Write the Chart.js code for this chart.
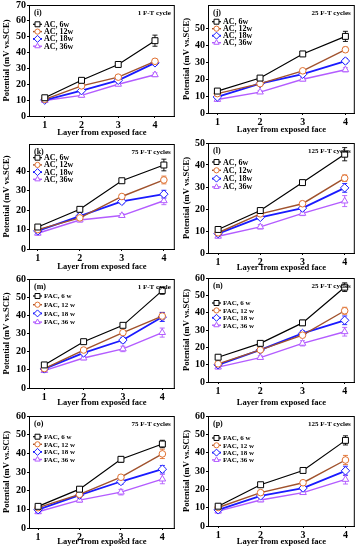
<!DOCTYPE html>
<html>
<head>
<meta charset="utf-8">
<script src="https://cdn.jsdelivr.net/npm/chart.js@4.4.0/dist/chart.umd.min.js"></script>
<style>
    html, body { margin: 0; padding: 0; background: #fff; }
    #wrap { position: relative; width: 360px; height: 550px; overflow: hidden; }
    #wrap canvas { position: absolute; }
</style>
</head>
<body>
<div id="wrap"></div>
<script>
/* --- DATA --- */

const layers = [1, 2, 3, 4];
const acNames = ['AC, 6w', 'AC, 12w', 'AC, 18w', 'AC, 36w'];
const facNames = ['FAC, 6 w', 'FAC, 12 w', 'FAC, 18 w', 'FAC, 36 w'];

// values per panel: rows = 6w, 12w, 18w, 36w
const valsI = [[11.5, 22.5, 32.5, 47.5], [10.5, 19, 24.5, 34.5], [10, 16, 22.5, 33.5], [9.8, 13, 20, 26]];
const errsI = [[1, 1.2, 1, 3.5], [0.8, 1, 1.2, 1.2], [0.8, 1.2, 1.2, 1.2], [0.8, 1, 1, 1.2]];

const valsJ = [[13, 20.7, 35, 45.4], [11.5, 17.4, 25, 37.5], [9.5, 17.4, 23, 30.8], [8, 12.4, 20, 25.6]];
const errsJ = [[1, 1, 1, 3], [0.8, 0.8, 1, 1.5], [1, 0.8, 1, 1.5], [0.8, 0.8, 1, 1.2]];

const valsK = [[11.3, 20.4, 35.1, 43.2], [10, 16, 27, 35.5], [9.3, 16.9, 24.5, 28.2], [8.1, 14.9, 17.2, 24.8]];
const errsK = [[1, 1, 1, 3], [1, 1, 1, 2], [1, 1, 1.2, 2], [1, 1, 1, 2]];

const valsL = [[10.7, 19.3, 32, 44.9], [9.2, 17.8, 22.4, 34], [8.8, 16.2, 20.4, 29.6], [7.6, 11.9, 18, 23.6]];
const errsL = [[1, 1, 1, 3], [0.8, 0.8, 1, 1.5], [0.8, 1, 1, 2], [0.8, 1, 1, 2.5]];

const valsM = [[12.7, 25.5, 34.5, 53.6], [10.7, 20.9, 30.5, 39.6], [10.5, 19.3, 26.4, 39.1], [9.6, 16.5, 21.5, 30.5]];
const errsM = [[1, 1, 1, 2], [1, 1, 1, 2], [1, 1, 1.5, 2.5], [1, 1, 1.5, 2.5]];

const valsN = [[14.3, 22.3, 34.1, 54.7], [10.5, 18.5, 27, 41.1], [9.9, 18.5, 28, 35.6], [8.6, 14.1, 22.3, 29]];
const errsN = [[1, 1, 1.5, 2.5], [1, 1, 1, 2], [1, 1, 1.5, 2.5], [1, 1, 1.5, 2.5]];

const valsO = [[11.6, 20.8, 36.8, 45], [10.9, 18, 27.2, 39.7], [9.8, 17.6, 24.9, 31.5], [8.7, 14.9, 19.2, 26.2]];
const errsO = [[1, 1, 1.5, 2], [1, 1, 1, 2.5], [1, 1, 1.5, 2], [1, 1, 1.5, 2.5]];

const valsP = [[10.8, 22.5, 30.3, 46.7], [10.1, 18.2, 23.6, 36], [8.8, 16.4, 20.7, 30.1], [8.1, 14.2, 18.2, 25.4]];
const errsP = [[1, 1, 1, 2.5], [1, 1, 1, 2.5], [1, 1, 1, 2.5], [1, 1, 1, 2.5]];

/* --- STYLE / LAYOUT --- */

const lineColors = ['#000000', '#a0522d', '#1a1aff', '#b35cff'];
const markColors = ['#000000', '#e07030', '#1a1aff', '#b35cff'];
const markStyles = ['rect', 'circle', 'rectRot', 'triangle'];
const markSizes = [4.2, 3.3, 4.2, 3.8];
const lineWidths = [1.2, 1.4, 1.8, 1.4];
const SERIF = "'Liberation Serif', 'DejaVu Serif', serif";

// box = chart area [left, top, right, bottom]; leg = [first row offset, row step]; tdy = x title offset
const panels = [
    { tag: '(i)', cyc: '1 F-T cycle', names: acNames, vals: valsI, errs: errsI, box: [29, 4, 176, 116], xr: [0.57, 4.54], ymax: 70, leg: [19.3, 7.3], tdy: 17, legFont: 8 },
    { tag: '(j)', cyc: '25 F-T cycles', names: acNames, vals: valsJ, errs: errsJ, box: [208, 4, 356, 113], xr: [0.78, 4.22], ymax: 64, leg: [16.7, 7], tdy: 17, legFont: 8 },
    { tag: '(k)', cyc: '75 F-T cycles', names: acNames, vals: valsK, errs: errsK, box: [29, 143, 176, 249], xr: [0.79, 4.26], ymax: 54, leg: [13.7, 7.2], tdy: 18, legFont: 8 },
    { tag: '(l)', cyc: '125 F-T cycles', names: acNames, vals: valsL, errs: errsL, box: [208, 142, 356, 253], xr: [0.76, 4.24], ymax: 50, leg: [19, 8.3], tdy: 15, legFont: 8 },
    { tag: '(m)', cyc: '1 F-T cycle', names: facNames, vals: valsM, errs: errsM, box: [29, 278, 176, 388], xr: [0.61, 4.32], ymax: 60, leg: [17, 8.7], tdy: 15, legFont: 7 },
    { tag: '(n)', cyc: '25 F-T cycles', names: facNames, vals: valsN, errs: errsN, box: [208, 277, 356, 382], xr: [0.76, 4.24], ymax: 60, leg: [25, 7.4], tdy: 21, legFont: 7 },
    { tag: '(o)', cyc: '75 F-T cycles', names: facNames, vals: valsO, errs: errsO, box: [29, 415, 176, 528], xr: [0.78, 4.3], ymax: 60, leg: [20.7, 7.6], tdy: 14, legFont: 7 },
    { tag: '(p)', cyc: '125 F-T cycles', names: facNames, vals: valsP, errs: errsP, box: [208, 415, 356, 526], xr: [0.76, 4.22], ymax: 60, leg: [22, 7.3], tdy: 16, legFont: 7 }
];

/* --- PLUGINS --- */

// error bars with caps, drawn under the markers
const errorBarPlugin = {
    id: 'errBars',
    beforeDatasetsDraw(chart, args, opts) {
        const { ctx, scales: { x, y } } = chart;
        ctx.save();
        chart.data.datasets.forEach((ds, d) => {
            ctx.strokeStyle = ds.pointBorderColor;
            ctx.lineWidth = 0.9;
            ds.data.forEach((pt, i) => {
                const e = opts.errs[d][i];
                const px = x.getPixelForValue(pt.x);
                const y1 = y.getPixelForValue(pt.y - e);
                const y2 = y.getPixelForValue(pt.y + e);
                ctx.beginPath();
                ctx.moveTo(px, y1); ctx.lineTo(px, y2);
                ctx.moveTo(px - 2.5, y1); ctx.lineTo(px + 2.5, y1);
                ctx.moveTo(px - 2.5, y2); ctx.lineTo(px + 2.5, y2);
                ctx.stroke();
            });
        });
        ctx.restore();
    }
};

// full frame, panel tag, cycle text and inside legend
const decorPlugin = {
    id: 'decor',
    afterDraw(chart, args, opts) {
        const { ctx, chartArea: { left, top, right, bottom } } = chart;
        ctx.save();
        ctx.strokeStyle = '#000';
        ctx.lineWidth = 1;
        ctx.strokeRect(left + 0.5, top + 0.5, right - left - 1, bottom - top);

        ctx.fillStyle = '#000';
        ctx.textBaseline = 'middle';
        ctx.font = `bold 8px ${SERIF}`;
        ctx.textAlign = 'left';
        ctx.fillText(opts.tag, left + 5, top + 8);
        ctx.font = `bold 7px ${SERIF}`;
        ctx.textAlign = 'right';
        ctx.fillText(opts.cyc, right - 4, top + 8);

        ctx.textAlign = 'left';
        ctx.font = `bold ${opts.legFont}px ${SERIF}`;
        chart.data.datasets.forEach((ds, d) => {
            const ly = top + opts.leg[0] + d * opts.leg[1];
            ctx.strokeStyle = ds.borderColor;
            ctx.lineWidth = ds.borderWidth;
            ctx.beginPath();
            ctx.moveTo(left + 4, ly); ctx.lineTo(left + 13, ly);
            ctx.stroke();
            ctx.strokeStyle = ds.pointBorderColor;
            ctx.fillStyle = '#fff';
            ctx.lineWidth = 1;
            Chart.helpers.drawPoint(ctx, { pointStyle: ds.pointStyle, radius: ds.pointRadius - 0.7, borderWidth: 1, rotation: 0 }, left + 8.5, ly);
            ctx.fillStyle = '#000';
            ctx.fillText(ds.label, left + 15, ly + 0.5);
        });
        ctx.restore();
    }
};

/* --- BUILD --- */

const wrap = document.getElementById('wrap');

panels.forEach(p => {
    const [L, T, R, B] = p.box;
    const colLeft = L < 180 ? 0 : 180;
    const padTop = 6;
    const xH = Math.round(p.tdy + 5);
    const cv = document.createElement('canvas');
    cv.width = 180;
    cv.height = padTop + (B - T) + xH;
    cv.style.left = colLeft + 'px';
    cv.style.top = (T - padTop) + 'px';
    wrap.appendChild(cv);

    const datasets = p.vals.map((vals, d) => ({
        label: p.names[d],
        data: layers.map((l, i) => ({ x: l, y: vals[i] })),
        borderColor: lineColors[d],
        borderWidth: lineWidths[d],
        pointBorderColor: markColors[d],
        pointBackgroundColor: '#fff',
        pointBorderWidth: 1,
        pointStyle: markStyles[d],
        pointRadius: markSizes[d],
        showLine: true,
        fill: false,
        tension: 0
    }));

    new Chart(cv.getContext('2d'), {
        type: 'scatter',
        data: { datasets },
        options: {
            responsive: false,
            animation: false,
            devicePixelRatio: 1,
            layout: { padding: { top: padTop, right: colLeft + 180 - R, left: 0, bottom: 0 } },
            plugins: {
                legend: { display: false },
                tooltip: { enabled: false },
                errBars: { errs: p.errs },
                decor: { tag: p.tag, cyc: p.cyc, leg: p.leg, legFont: p.legFont }
            },
            scales: {
                x: {
                    type: 'linear',
                    min: p.xr[0],
                    max: p.xr[1],
                    afterBuildTicks: s => { s.ticks = layers.map(v => ({ value: v })); },
                    afterFit: s => { s.height = xH; },
                    grid: { display: true, drawOnChartArea: false, tickLength: 2, color: '#000' },
                    border: { color: '#000', width: 1 },
                    ticks: { color: '#000', padding: 1, maxRotation: 0, font: { family: SERIF, size: 10, weight: 'bold' } },
                    title: { display: true, text: 'Layer from exposed face', color: '#000', padding: 0, font: { family: SERIF, size: 8.5, weight: 'bold' } }
                },
                y: {
                    min: 0,
                    max: p.ymax,
                    afterBuildTicks: s => { s.ticks = s.ticks.filter(t => t.value % 10 === 0); },
                    afterFit: s => { s.width = L - colLeft; },
                    grid: { display: true, drawOnChartArea: false, tickLength: 2, color: '#000' },
                    border: { color: '#000', width: 1 },
                    ticks: { color: '#000', padding: 1, stepSize: 10, font: { family: SERIF, size: 10, weight: 'bold' } },
                    title: { display: true, text: 'Potential (mV vs.SCE)', color: '#000', padding: { top: 2 }, font: { family: SERIF, size: 8.5, weight: 'bold' } }
                }
            }
        },
        plugins: [errorBarPlugin, decorPlugin]
    });
});
</script>
</body>
</html>
